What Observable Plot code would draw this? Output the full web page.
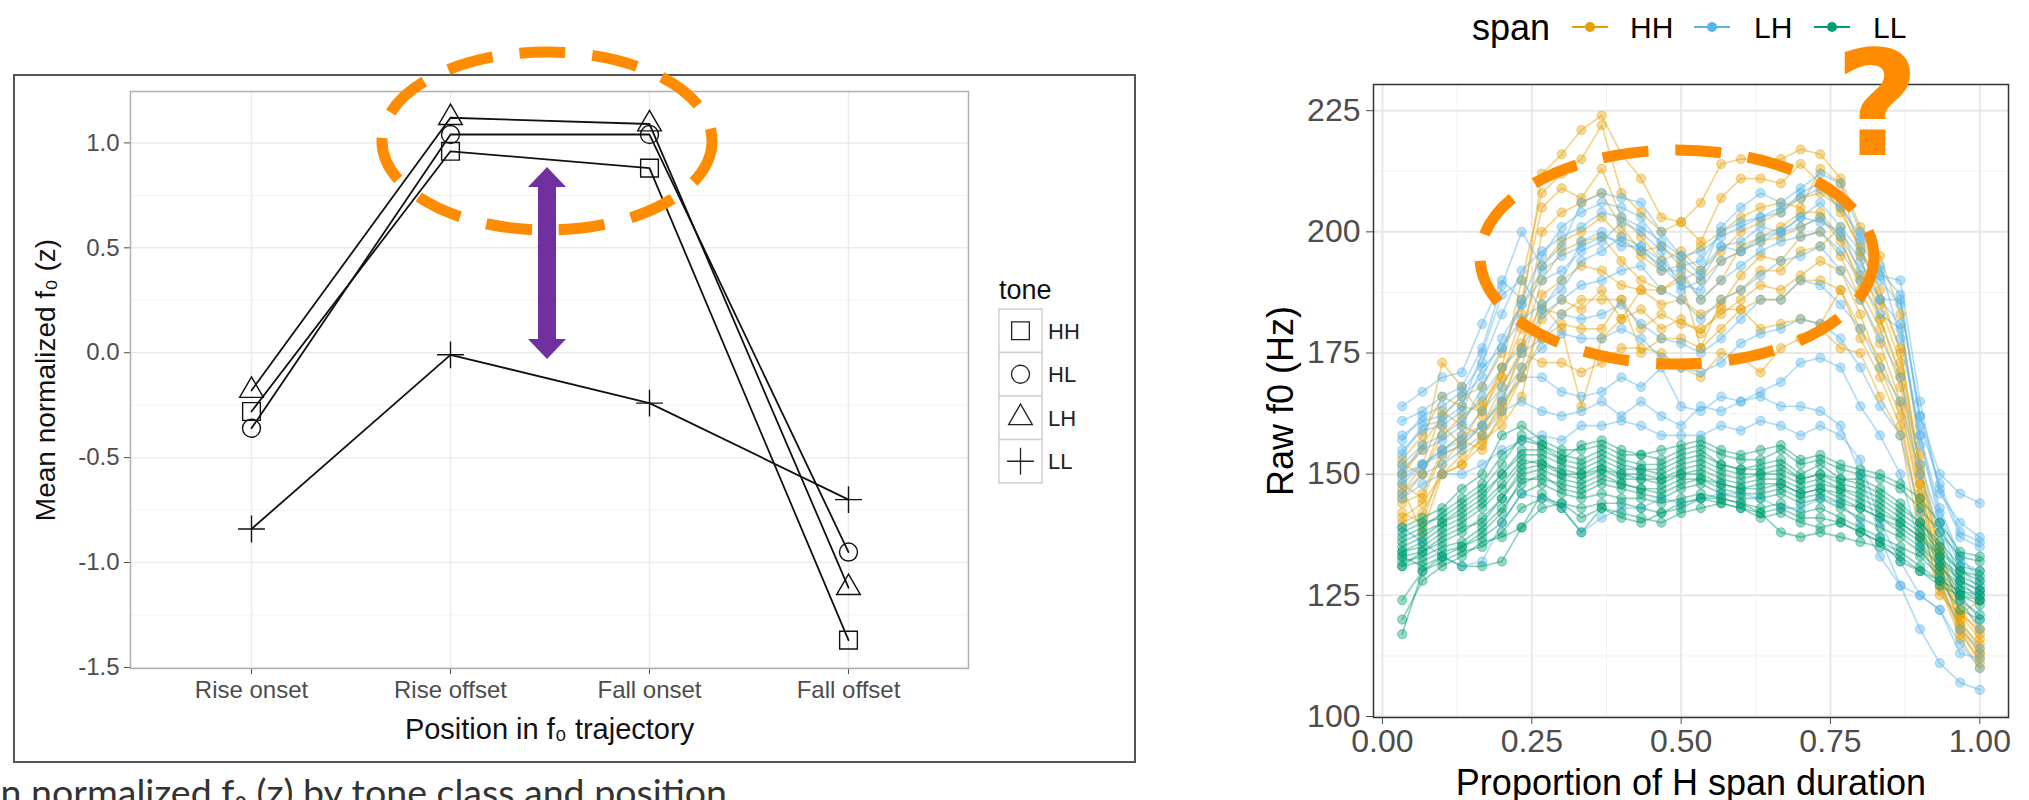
<!DOCTYPE html>
<html><head><meta charset="utf-8">
<script src="https://cdn.jsdelivr.net/npm/d3@7"></script>
<script src="https://cdn.jsdelivr.net/npm/@observablehq/plot@0.6"></script>
<style>
html,body{margin:0;padding:0;background:#fff;width:2029px;height:800px;overflow:hidden;font-family:"Liberation Sans",Arial,sans-serif;}
#root{position:relative;width:2029px;height:800px;overflow:hidden;}
.abs{position:absolute;}
</style></head><body>
<div id="root"></div>
<script>
// ---------- LEFT CHART DATA ----------
const positions = ["Rise onset", "Rise offset", "Fall onset", "Fall offset"];
const tones = ["HH", "HL", "LH", "LL"];
const meanHH = [-0.28, 0.96, 0.88, -1.37];
const meanHL = [-0.36, 1.04, 1.04, -0.95];
const meanLH = [-0.18, 1.12, 1.09, -1.12];
const meanLL = [-0.84, -0.01, -0.24, -0.70];
const yTicksLeft = [-1.5, -1.0, -0.5, 0.0, 0.5, 1.0];
const yMinorLeft = [-1.25, -0.75, -0.25, 0.25, 0.75];

// ---------- RIGHT CHART DATA ----------
const props = [0.033, 0.067, 0.1, 0.133, 0.167, 0.2, 0.233, 0.267, 0.3, 0.333, 0.367, 0.4, 0.433, 0.467, 0.5,
               0.533, 0.567, 0.6, 0.633, 0.667, 0.7, 0.733, 0.767, 0.8, 0.833, 0.867, 0.9, 0.933, 0.967, 1.0];
const spans = ["HH", "LH", "LL"];
const spanColors = ["#E69F00", "#56B4E9", "#009E73"];
const hhCurves = [
  [153,158,166,164,163,170,183,212,216,221,224,216,211,203,202,206,214,215,215,215,217,216,211,201,195,183,154,135,121,116],
  [150,155,173,168,162,172,190,208,212,215,222,208,204,200,202,198,207,211,211,210,214,210,204,197,186,176,150,132,118,113],
  [146,152,163,160,158,165,176,200,204,206,208,201,196,197,194,197,200,203,205,206,205,213,210,195,182,171,148,130,120,114],
  [144,146,155,158,160,168,176,190,196,198,199,194,190,188,191,186,190,197,199,201,204,204,199,188,180,168,146,128,117,112],
  [142,140,152,157,155,163,172,187,190,193,192,189,188,185,186,183,185,191,195,194,199,200,195,186,177,165,145,131,121,118],
  [140,142,150,154,157,160,166,184,183,186,186,186,180,183,181,180,183,186,189,188,191,194,192,183,172,162,140,127,116,110],
  [147,138,150,152,158,164,170,178,181,180,180,186,175,178,178,176,180,184,180,181,182,181,188,178,170,160,142,125,121,124],
  [148,145,154,156,160,165,175,173,173,171,173,176,176,175,172,170,175,174,171,176,178,180,176,175,166,158,137,126,119,115],
  [152,150,160,156,164,172,177,185,180,164,178,182,188,188,190,176,186,188,192,192,196,197,201,191,185,173,151,134,124,118],
  [145,150,158,162,165,170,180,193,198,200,203,199,195,192,193,190,194,196,198,199,201,203,198,190,182,170,148,130,119,113],
  [150,156,162,166,168,175,186,205,209,207,213,203,199,194,196,192,196,200,202,204,207,208,205,196,188,175,152,133,122,117],
  [141,144,150,152,156,162,170,182,186,184,188,182,184,180,182,179,184,184,186,186,190,190,188,180,174,164,144,128,118,111]
];
const lhCurves = [
  [161,163,166,168,176,189,200,193,197,206,208,207,206,200,195,191,201,205,208,206,209,212,210,200,193,178,158,140,131,126],
  [164,167,170,171,181,190,186,195,201,204,206,205,203,197,193,194,200,202,203,204,208,210,206,198,191,190,165,146,140,137],
  [158,161,162,166,170,178,185,190,192,196,198,202,200,196,188,190,197,196,199,200,203,202,200,194,186,186,162,147,137,135],
  [155,159,160,163,172,176,182,185,188,194,196,199,197,192,192,186,190,193,196,198,199,200,196,190,183,180,158,143,133,128],
  [152,156,158,161,166,172,176,183,186,189,190,192,193,188,186,182,186,188,191,194,195,197,192,186,178,170,152,140,128,124],
  [150,152,155,158,163,168,175,178,183,182,183,185,181,178,177,175,178,182,186,186,190,189,185,180,172,165,150,138,125,120],
  [148,152,155,157,160,165,170,170,167,166,167,170,168,172,164,163,166,165,167,169,173,174,172,164,158,150,135,128,118,114],
  [146,150,152,155,158,163,165,163,162,163,165,162,165,162,160,164,163,165,166,164,164,163,160,150,137,127,118,111,107,105.5],
  [145,148,150,150,152,155,157,158,157,160,160,161,160,158,158,158,160,159,161,160,158,160,158,153,140,132,125,122,115,110],
  [139,136,133,131,132,140,146,145,143,138,141,143,143,145,144,145,146,146,145,143,143,145,144,140,133,127,125,122,113,112],
  [154,160,161,164,175,187,190,184,190,198,200,197,197,194,190,192,197,198,201,200,203,206,201,196,190,185,162,150,146,144],
  [157,162,164,167,173,183,192,196,199,201,204,203,201,198,195,196,199,201,203,205,207,209,205,199,192,187,160,148,138,136],
  [151,155,157,160,168,176,185,192,195,197,199,198,196,193,189,188,194,196,198,200,201,203,199,192,186,181,156,142,132,130],
  [149,152,154,156,160,166,172,176,179,178,178,180,178,174,172,171,173,177,179,180,182,181,178,172,164,158,142,132,124,118]
];
const llCurves = [
  [139,141,143,147,150,158,160,157,155,155,156,154,154,153,155,156,154,153,153,155,152,153,151,150,149,147,143,138,133,132],
  [137,139,142,145,148,154,157,156,154,153,155,153,152,152,154,155,152,151,152,153,150,152,149,149,147,144,140,136,131,130],
  [135,137,140,143,146,150,154,154,152,151,153,151,151,150,152,153,151,150,150,151,149,150,148,147,145,142,139,134,130,128],
  [134,135,138,140,143,147,152,153,150,150,151,150,149,149,150,151,149,148,149,149,147,148,147,145,143,140,137,133,128,126],
  [133,134,136,138,141,145,150,151,149,148,150,148,147,147,149,149,148,147,147,148,146,147,145,143,141,139,136,131,127,125],
  [132,133,135,136,139,143,148,150,147,146,148,147,146,145,147,148,146,145,145,146,144,145,143,141,139,137,134,130,125,123],
  [131,132,134,135,137,140,146,148,146,145,146,145,145,144,145,146,145,144,143,144,142,143,141,139,137,135,133,129,124,121],
  [124,130,132,134,135,138,143,145,144,143,144,144,143,142,144,145,144,143,142,143,141,141,140,138,136,134,131,128,122,120],
  [120,128,131,133,136,137,139,146,143,138,143,141,140,142,143,145,145,144,142,138,137,138,137,136,135,133,130,127,125,124],
  [117,130,133,131,131,132,139,143,144,141,143,142,141,140,142,143,144,143,141,142,140,139,140,138,136,132,130,128,126,125],
  [138,140,141,144,147,152,158,156,153,156,157,155,154,155,156,157,155,154,155,156,153,154,152,151,150,148,145,140,134,133],
  [136,138,140,142,145,150,155,155,153,152,154,152,151,151,153,154,152,151,151,152,149,150,149,148,146,143,140,135,130,129],
  [134,136,139,141,144,148,153,152,151,150,152,150,150,149,151,152,150,149,150,150,148,149,147,146,144,141,138,133,129,127],
  [133,131,133,135,138,142,149,149,148,147,149,148,147,146,148,149,147,146,146,147,145,146,144,143,141,138,135,131,126,124],
  [131,134,137,139,140,145,151,152,150,149,151,149,149,148,150,150,148,147,148,148,146,147,146,144,142,140,137,132,128,126]
];
const yTicksRight = [100, 125, 150, 175, 200, 225];
const yMinorRight = [112.5, 137.5, 162.5, 187.5, 212.5];
const xTicksRight = [0, 0.25, 0.5, 0.75, 1.0];
const xMinorRight = [0.125, 0.375, 0.625, 0.875];

// ---------- helpers ----------
const root = document.getElementById("root");
function place(el, left, top) {
  const d = document.createElement("div");
  d.className = "abs";
  d.style.left = left + "px"; d.style.top = top + "px";
  d.appendChild(el); root.appendChild(d); return d;
}
const FONT = "Liberation Sans, Arial, Helvetica, sans-serif";

// ---------- LEFT CHART ----------
const frameDiv = document.createElement("div");
frameDiv.style.cssText = "position:absolute;left:13px;top:74px;width:1123px;height:689px;border:2px solid #555;box-sizing:border-box;";
root.appendChild(frameDiv);

const means = [meanHH, meanHL, meanLH, meanLL];
const leftData = tones.flatMap((t, i) => positions.map((p, j) => ({tone: t, pos: p, z: means[i][j]})));
const symCfg = {HH: {symbol: "square", r: 10}, HL: {symbol: "circle", r: 9}, LH: {symbol: "triangle", r: 8.8}, LL: {symbol: "plus", r: 8.7}};

const left = Plot.plot({
  width: 1000, height: 689,
  marginLeft: 117, marginRight: 45, marginTop: 17, marginBottom: 95,
  style: {fontFamily: FONT, fontSize: "24px", color: "#4d4d4d", background: "transparent", maxWidth: "none", overflow: "visible"},
  x: {type: "point", domain: positions, padding: 0.6, label: null, tickSize: 6, tickPadding: 6},
  y: {domain: [-1.505, 1.245], ticks: yTicksLeft, tickFormat: d => d.toFixed(1), label: null, tickSize: 6, tickPadding: 5},
  marks: [
    Plot.ruleY(yMinorLeft, {stroke: "#f3f3f3", strokeWidth: 1}),
    Plot.ruleY(yTicksLeft, {stroke: "#ebebeb", strokeWidth: 1.5}),
    Plot.ruleX(positions, {stroke: "#ebebeb", strokeWidth: 1.5}),
    Plot.frame({stroke: "#b0b0b0", strokeWidth: 1.5}),
    Plot.line(leftData, {x: "pos", y: "z", z: "tone", stroke: "#111", strokeWidth: 1.8}),
    ...tones.map(t => Plot.dot(leftData.filter(d => d.tone === t), {x: "pos", y: "z", symbol: symCfg[t].symbol, r: symCfg[t].r, stroke: "#111", fill: "none", strokeWidth: 1.4})),
    Plot.text(["Mean normalized f₀ (z)"], {frameAnchor: "left", dx: -84, rotate: -90, textAnchor: "middle", lineAnchor: "middle", fontSize: 28, fill: "#111"}),
    Plot.text(["Position in f₀ trajectory"], {frameAnchor: "bottom", dy: 61, textAnchor: "middle", lineAnchor: "middle", fontSize: 29, fill: "#111"})
  ]
});
place(left, 13, 74);

// ---------- RIGHT CHART ----------
const curvesBySpan = {HH: hhCurves, LH: lhCurves, LL: llCurves};
const rightData = spans.flatMap(s => curvesBySpan[s].flatMap((curve, i) => curve.map((v, j) => ({span: s, id: s + i, x: props[j], f0: v}))));

const right = Plot.plot({
  width: 789, height: 730,
  marginLeft: 133, marginRight: 21, marginTop: 14, marginBottom: 83,
  style: {fontFamily: FONT, fontSize: "32px", color: "#4d4d4d", background: "transparent", maxWidth: "none", overflow: "visible"},
  x: {domain: [-0.015, 1.048], ticks: xTicksRight, tickFormat: d => d.toFixed(2), label: null, tickSize: 7, tickPadding: 5},
  y: {domain: [99.8, 230.4], ticks: yTicksRight, tickFormat: d => String(d), label: null, tickSize: 7, tickPadding: 6},
  color: {domain: spans, range: spanColors},
  marks: [
    Plot.ruleY(yMinorRight, {stroke: "#f2f2f2", strokeWidth: 1}),
    Plot.ruleX(xMinorRight, {stroke: "#f2f2f2", strokeWidth: 1}),
    Plot.ruleY(yTicksRight, {stroke: "#e8e8e8", strokeWidth: 2}),
    Plot.ruleX(xTicksRight, {stroke: "#e8e8e8", strokeWidth: 2}),
    Plot.line(rightData, {x: "x", y: "f0", z: "id", stroke: "span", strokeOpacity: 0.45, strokeWidth: 1.7}),
    Plot.dot(rightData, {x: "x", y: "f0", fill: "span", fillOpacity: 0.4, stroke: "span", strokeOpacity: 0.45, strokeWidth: 1, r: 4.6}),
    Plot.frame({stroke: "#333", strokeWidth: 1.5}),
    Plot.text(["Raw f0 (Hz)"], {frameAnchor: "left", dx: -92, rotate: -90, textAnchor: "middle", lineAnchor: "middle", fontSize: 36, fill: "#000"}),
    Plot.text(["Proportion of H span duration"], {frameAnchor: "bottom", dy: 66, textAnchor: "middle", lineAnchor: "middle", fontSize: 36, fill: "#000"})
  ]
});
place(right, 1240, 70);

// ---------- LEGENDS + ANNOTATIONS OVERLAY ----------
const svg = d3.create("svg").attr("width", 2029).attr("height", 800)
  .style("position", "absolute").style("left", "0px").style("top", "0px").style("pointer-events", "none")
  .style("font-family", FONT);

// left legend (tone)
svg.append("text").attr("x", 999).attr("y", 290).attr("dominant-baseline", "central")
  .attr("font-size", 27).attr("fill", "#111").text("tone");
const symMap = {square: d3.symbolSquare, circle: d3.symbolCircle, triangle: d3.symbolTriangle, plus: d3.symbolPlus};
tones.forEach((t, k) => {
  const y0 = 309 + 43.5 * k;
  svg.append("rect").attr("x", 999).attr("y", y0).attr("width", 43).attr("height", 43.5)
    .attr("fill", "#fff").attr("stroke", "#cfcfcf").attr("stroke-width", 1.5);
  const r = symCfg[t].r;
  svg.append("path").attr("transform", `translate(${1020.5},${y0 + 21.75})`)
    .attr("d", d3.symbol(symMap[symCfg[t].symbol], Math.PI * r * r)())
    .attr("fill", "none").attr("stroke", "#222").attr("stroke-width", 1.3);
  svg.append("text").attr("x", 1048).attr("y", y0 + 22).attr("dominant-baseline", "central")
    .attr("font-size", 22).attr("fill", "#222").text(t);
});

// right legend (span)
svg.append("text").attr("x", 1472).attr("y", 27).attr("dominant-baseline", "central")
  .attr("font-size", 36).attr("fill", "#000").text("span");
const keyX = [1572, 1694, 1814];
const labX = [1630, 1754, 1873];
spans.forEach((s, i) => {
  svg.append("line").attr("x1", keyX[i]).attr("x2", keyX[i] + 36).attr("y1", 27).attr("y2", 27)
    .attr("stroke", spanColors[i]).attr("stroke-width", 2.2);
  svg.append("circle").attr("cx", keyX[i] + 18).attr("cy", 27).attr("r", 5).attr("fill", spanColors[i]);
  svg.append("text").attr("x", labX[i]).attr("y", 27).attr("dominant-baseline", "central")
    .attr("font-size", 30).attr("fill", "#000").text(s);
});

// annotations
const ORANGE = "#FF8C00";
svg.append("ellipse").attr("cx", 547).attr("cy", 141).attr("rx", 165).attr("ry", 89)
  .attr("fill", "none").attr("stroke", ORANGE).attr("stroke-width", 11).attr("stroke-dasharray", "46 27");
svg.append("ellipse").attr("cx", 1677).attr("cy", 257).attr("rx", 197).attr("ry", 107)
  .attr("fill", "none").attr("stroke", ORANGE).attr("stroke-width", 11).attr("stroke-dasharray", "46 27");
svg.append("polygon")
  .attr("points", "547,167 566,187 556,187 556,339 566,339 547,359 528,339 538,339 538,187 528,187")
  .attr("fill", "#7030A0");
svg.append("text").attr("x", 1877).attr("y", 155).attr("text-anchor", "middle")
  .attr("font-family", "DejaVu Sans, sans-serif").attr("font-weight", 700).attr("font-size", 146)
  .attr("fill", ORANGE).text("?");

// cut-off caption
svg.append("text").attr("x", 727).attr("y", 806).attr("text-anchor", "end")
  .attr("font-family", "Lato, sans-serif").attr("font-size", 37.5).attr("fill", "#333")
  .text("Mean normalized f₀ (z) by tone class and position");

root.appendChild(svg.node());
</script>
</body></html>
